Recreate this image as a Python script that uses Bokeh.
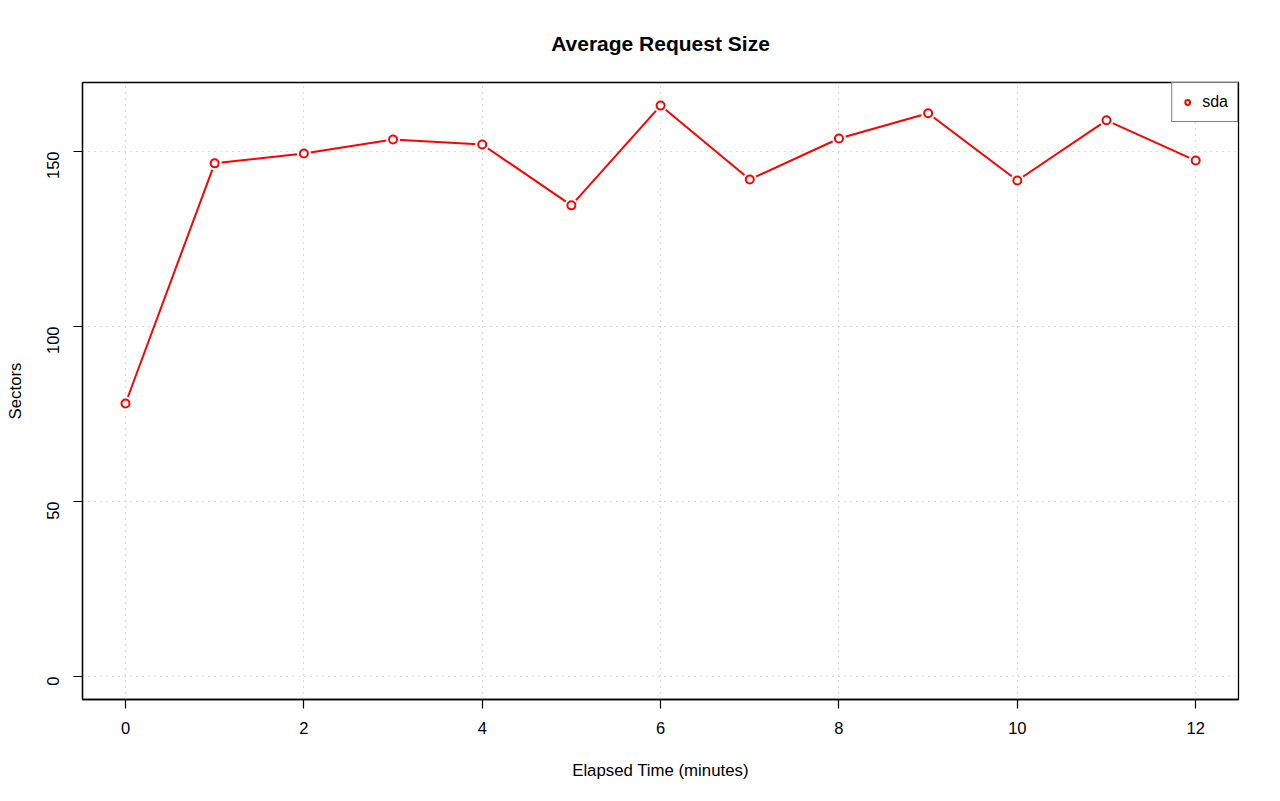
import math
from bokeh.plotting import figure
from bokeh.models import Range1d, FixedTicker, Legend, LegendItem, ColumnDataSource
from bokeh.embed import file_html
from bokeh.resources import INLINE

minutes = [0, 1, 2, 3, 4, 5, 6, 7, 8, 9, 10, 11, 12]
sda = [78.0, 146.6, 149.4, 153.4, 152.0, 134.6, 163.1, 142.0, 153.7, 160.9, 141.7, 158.9, 147.4]
x_ticks = [0, 2, 4, 6, 8, 10, 12]
y_ticks = [0, 50, 100, 150]

FONT = "Liberation Sans"
src = ColumnDataSource(dict(x=minutes, y=sda))

p = figure(width=1264, height=785, output_backend="svg", toolbar_location=None,
           x_range=Range1d(-0.482, 12.48), y_range=Range1d(-6.57, 169.7),
           min_border_left=82, min_border_right=26, min_border_top=82, min_border_bottom=86)

# second (blank) line lifts the title away from the frame
p.title.text = "Average Request Size\n\u00a0"
p.title.align = "center"
p.title.text_font = FONT
p.title.text_font_size = "21px"
p.title.text_font_style = "bold"
p.title.text_color = "black"

p.outline_line_color = "black"
p.outline_line_width = 1.3
p.background_fill_color = "white"

for ax in (p.xaxis[0], p.yaxis[0]):
    ax.axis_line_color = "black"
    ax.axis_line_width = 1.3
    ax.major_tick_in = 0
    ax.major_tick_out = 9
    ax.major_tick_line_color = "black"
    ax.major_tick_line_width = 1.2
    ax.minor_tick_line_color = None
    ax.major_label_text_font = FONT
    ax.major_label_text_font_size = "16.5px"
    ax.major_label_text_color = "black"
    ax.axis_label_text_font = FONT
    ax.axis_label_text_font_size = "16.8px"
    ax.axis_label_text_font_style = "normal"
    ax.axis_label_text_color = "black"

p.xaxis[0].ticker = FixedTicker(ticks=x_ticks)
p.yaxis[0].ticker = FixedTicker(ticks=y_ticks)
p.xaxis[0].axis_label = "Elapsed Time (minutes)"
p.yaxis[0].axis_label = "Sectors"
p.yaxis[0].major_label_orientation = math.pi / 2
p.xaxis[0].major_label_standoff = 13
p.yaxis[0].major_label_standoff = 20
p.xaxis[0].axis_label_standoff = 24
p.yaxis[0].axis_label_standoff = 14

p.xgrid[0].ticker = FixedTicker(ticks=x_ticks)
p.ygrid[0].ticker = FixedTicker(ticks=y_ticks)
for g in (p.xgrid[0], p.ygrid[0]):
    g.grid_line_color = "#b8b8b8"
    g.grid_line_dash = "1 5"
    g.grid_line_width = 1.2

p.line("x", "y", source=src, line_color="red", line_width=2)
p.scatter("x", "y", source=src, size=14, fill_color="white", line_color=None)
pts = p.scatter("x", "y", source=src, size=8, fill_color="white", line_color="red", line_width=2)

legend = Legend(items=[LegendItem(label="sda", renderers=[pts])], location="top_right")
legend.border_line_color = "black"
legend.border_line_width = 1.3
legend.margin = 0
legend.padding = 9
legend.label_text_font = FONT
legend.label_text_font_size = "16px"
legend.label_text_color = "black"
legend.glyph_width = 12
legend.label_standoff = 9
p.add_layout(legend, "center")

open("out.html", "w").write(file_html(p, INLINE))
